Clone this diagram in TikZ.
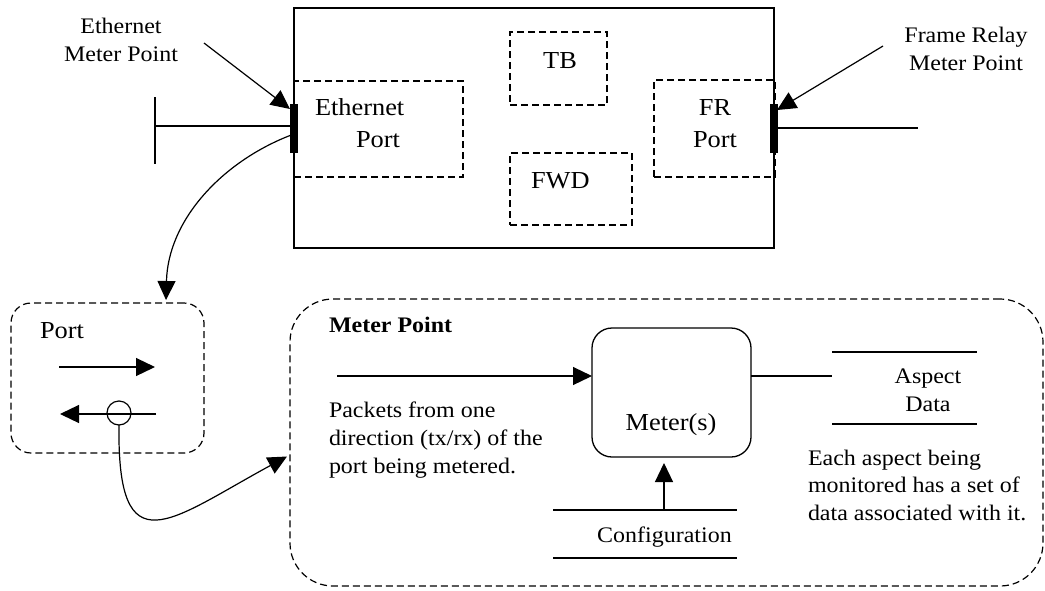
\documentclass[tikz,border=0pt]{standalone}
\usepackage{fontspec}
\setmainfont{Liberation Serif}[FakeStretch=1.08]
\usetikzlibrary{arrows.meta,calc}
\tikzset{
 sm/.style={font=\fontsize{22.2}{27.7}\selectfont, inner sep=0pt, outer sep=0pt},
 lg/.style={font=\fontsize{24.4}{32}\selectfont, inner sep=0pt, outer sep=0pt},
 ln/.style={line width=1.2pt},
 dbox/.style={draw, line width=1.2pt, dash pattern=on 7pt off 4pt, inner sep=0pt, outer sep=0pt},
 sbox/.style={draw, line width=1.3pt, inner sep=0pt, outer sep=0pt},
 arr/.style={line width=1.2pt, -{Triangle[length=19pt,width=18pt]}},
 mbar/.style={fill=black, inner sep=0pt, outer sep=0pt, minimum width=8pt, minimum height=49pt},
}
\begin{document}
\begin{tikzpicture}[x=1pt,y=-1pt]
\useasboundingbox (0,0) rectangle (1045,590);
% device box
\node[sbox, minimum width=480pt, minimum height=240pt] (dev) at (534,128) {};
\node[dbox, minimum width=169pt, minimum height=96pt] (ethbox) at (378.5,129) {};
\node[dbox, minimum width=97pt, minimum height=73pt] (tbbox) at (558.5,68.5) {};
\node[dbox, minimum width=122pt, minimum height=72pt] (fwdbox) at (571,189) {};
\node[dbox, minimum width=121pt, minimum height=97pt] (frbox) at (714.5,128.5) {};
\node[lg, anchor=base west, align=left] (ethtxt) at (315,147) {Ethernet\\\hspace*{41pt}Port};
\node[lg, anchor=base] (tbtxt) at (560,68) {TB};
\node[lg, anchor=base west] (fwdtxt) at (531,188) {FWD};
\node[lg, anchor=base, align=center] (frtxt) at (715,147) {FR\\Port};
% meter point bars
\node[mbar] (emp) at (294,128.5) {};
\node[mbar] (frmp) at (774,128.5) {};
% external lines
\coordinate (ethend) at (155,126);
\coordinate (ethtop) at (155,97);
\coordinate (ethbot) at (155,164);
\draw[ln] (ethend) -- (ethend -| emp.west);
\draw[ln] (ethtop) -- (ethbot);
\coordinate (frend) at (918,128);
\draw[ln] (frend -| frmp.east) -- (frend);
% labels
\node[sm, anchor=base, align=center] (ethlbl) at (121,61) {Ethernet\\Meter Point};
\node[sm, anchor=base, align=center] (frlbl) at (966,70.5) {Frame Relay\\Meter Point};
\coordinate (ea) at (204,43);
\coordinate (fa) at (883,46);
\draw[arr] (ea) -- ($(emp.north west)+(0,5)$);
\draw[arr] (fa) -- ($(frmp.north east)+(-1,6)$);
% port box
\node[dbox, rounded corners=20pt, minimum width=193pt, minimum height=150pt] (portbox) at (107.5,378) {};
\node[lg, anchor=base west] (porttxt) at (40,338) {Port};
\coordinate (ra1) at (59,367);
\coordinate (ra2) at (155,367);
\draw[arr] (ra1) -- (ra2);
\coordinate (la1) at (156,414);
\coordinate (la2) at (60,414);
\draw[arr] (la1) -- (la2);
\node[draw, circle, line width=1.2pt, minimum size=24pt, inner sep=0pt, outer sep=0pt] (circ) at (119,413) {};
% curve from ethernet meter point to port box
\draw[arr] ($(emp.west)+(0,7)$) .. controls (222,162) and (168,220) .. ($(portbox.north west)+(155,-3)$);
% meter point box
\node[dbox, rounded corners=43pt, minimum width=753pt, minimum height=287pt] (mpbox) at (666.5,442.5) {};
\node[sm, anchor=base west, font=\fontsize{22.2}{27.7}\selectfont\bfseries] (mptitle) at (329,332) {Meter Point};
\draw[arr] (circ.south) .. controls (117,570) and (170,520) .. ($(mpbox.west)+(-3,14)$);
% meter box
\node[sbox, rounded corners=20pt, minimum width=159pt, minimum height=129pt] (meter) at (671.5,392.5) {};
\node[lg, anchor=base] (metertxt) at (671,430) {Meter(s)};
\coordinate (in1) at (337,376);
\draw[arr] (in1) -- (in1 -| meter.west);
\coordinate (out1) at (832,376);
\draw[ln] (in1 -| meter.east) -- (out1);
\node[sm, anchor=base west, align=left] (pkttxt) at (329,473) {Packets from one\\direction (tx/rx) of the\\port being metered.};
% aspect data
\coordinate (ad1) at (832,352);
\coordinate (ad2) at (977,352);
\coordinate (ad3) at (832,424);
\coordinate (ad4) at (977,424);
\draw[ln] (ad1) -- (ad2);
\draw[ln] (ad3) -- (ad4);
\node[sm, anchor=base, align=center, font=\fontsize{22.2}{28}\selectfont] (adtxt) at (928,411) {Aspect\\Data};
\node[sm, anchor=base west, align=left] (eachtxt) at (808,520.5) {Each aspect being\\monitored has a set of\\data associated with it.};
% configuration
\coordinate (cf1) at (553,510);
\coordinate (cf2) at (737,510);
\coordinate (cf3) at (553,558);
\coordinate (cf4) at (737,558);
\draw[ln] (cf1) -- (cf2);
\draw[ln] (cf3) -- (cf4);
\node[sm, anchor=base] (cftxt) at (664.5,542) {Configuration};
\coordinate (cfa) at (664,510);
\draw[arr] (cfa) -- ($(meter.south -| cfa)+(0,6)$);
\end{tikzpicture}
\end{document}
